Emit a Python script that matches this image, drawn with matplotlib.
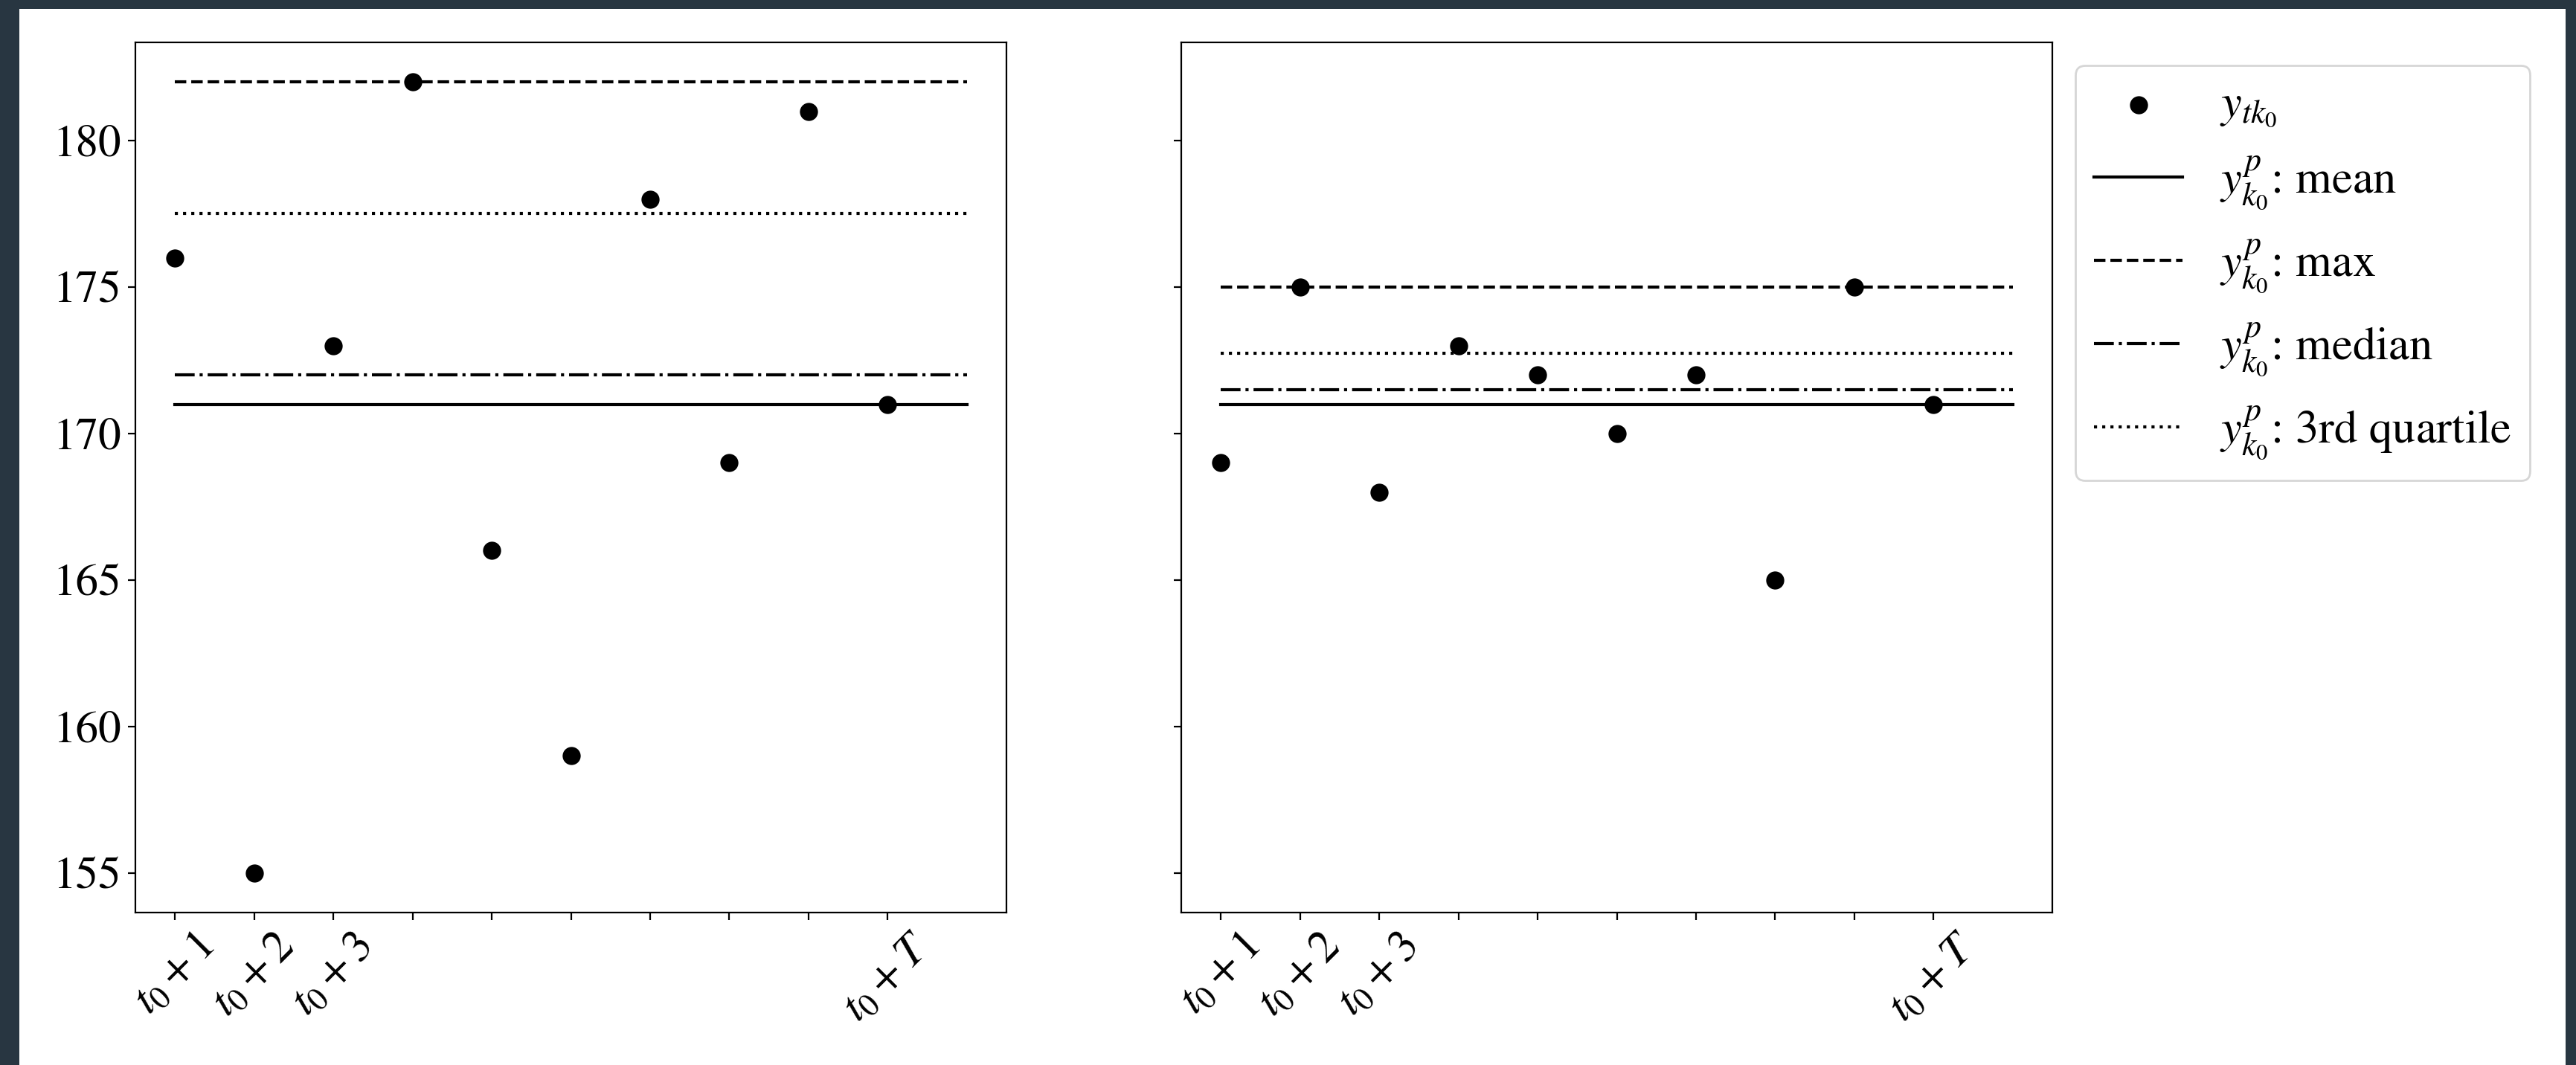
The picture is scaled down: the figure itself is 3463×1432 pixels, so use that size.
import matplotlib as mpl
mpl.use('Agg')
import matplotlib.pyplot as plt
from matplotlib.patches import Rectangle

# data
steps = list(range(10))
tick_labels = [r'$t_0+1$', r'$t_0+2$', r'$t_0+3$', '', '', '', '', '', '', r'$t_0+T$']

left_values = [176, 155, 173, 182, 166, 159, 178, 169, 181, 171]
left_mean, left_max, left_median, left_q3 = 171, 182, 172, 177.5

right_values = [169, 175, 168, 173, 172, 170, 172, 165, 175, 171]
right_mean, right_max, right_median, right_q3 = 171, 175, 171.5, 172.75

plt.rcParams['font.family'] = ['STIXGeneral', 'DejaVu Serif']
plt.rcParams['mathtext.fontset'] = 'stix'
plt.rcParams['font.size'] = 22

W, H = 3463, 1432
fig = plt.figure(figsize=(W / 200, H / 200), dpi=200, facecolor='#283641')
# white page inside the dark frame
fig.add_artist(Rectangle((26 / W, 0), (3449 - 26) / W, (H - 12) / H,
                         transform=fig.transFigure, facecolor='white',
                         edgecolor='none', zorder=-10))

bottom = (H - 1227) / H
height = (1227 - 57) / H
ax1 = fig.add_axes([182 / W, bottom, 1171 / W, height])
ax2 = fig.add_axes([1588 / W, bottom, 1171 / W, height], sharey=ax1)


def panel(ax, vals, mean, mx, median, q3):
    ax.scatter(steps, vals, color='black', s=60, zorder=3, label=r'$y_{tk_0}$')
    x0, x1 = steps[0], steps[-1] + 1
    ax.plot([x0, x1], [mean, mean], 'k-', label=r'$y_{k_0}^p$: mean')
    ax.plot([x0, x1], [mx, mx], 'k--', label=r'$y_{k_0}^p$: max')
    ax.plot([x0, x1], [median, median], 'k-.', label=r'$y_{k_0}^p$: median')
    ax.plot([x0, x1], [q3, q3], 'k:', label=r'$y_{k_0}^p$: 3rd quartile')
    ax.set_xticks(steps)
    ax.set_xticklabels(tick_labels, rotation=45)
    ax.set_xlim(-0.5, 10.5)


panel(ax1, left_values, left_mean, left_max, left_median, left_q3)
panel(ax2, right_values, right_mean, right_max, right_median, right_q3)
ax1.set_yticks([155, 160, 165, 170, 175, 180])
plt.setp(ax2.get_yticklabels(), visible=False)

ax2.legend(loc='upper left', bbox_to_anchor=(1, 1), labelspacing=0.55,
           handlelength=1.9, fontsize=22.5)

fig.savefig('out.png', dpi=200, facecolor=fig.get_facecolor())
